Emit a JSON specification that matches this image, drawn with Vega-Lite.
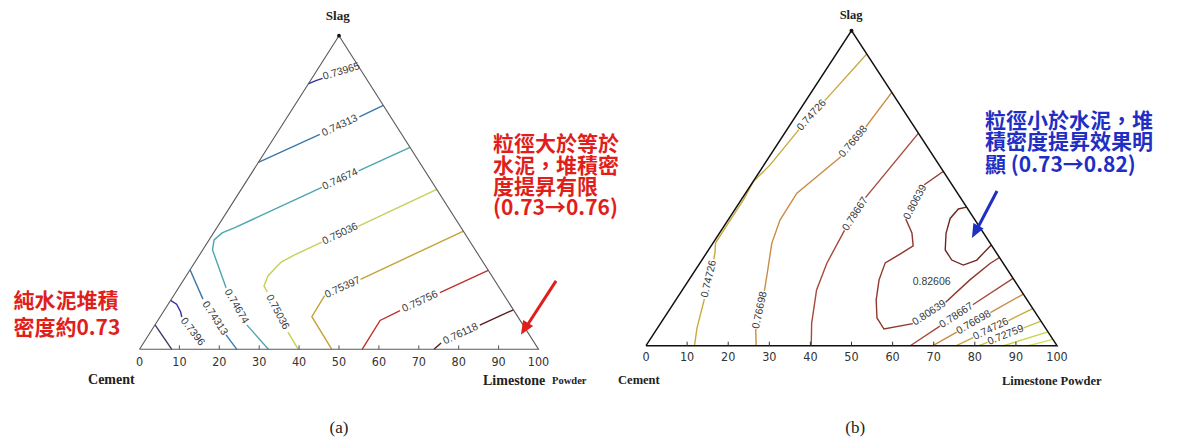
{
  "$schema": "https://vega.github.io/schema/vega-lite/v6.json",
  "width": 1182,
  "height": 441,
  "autosize": {"type": "fit", "contains": "padding"},
  "padding": 0,
  "background": "white",
  "config": {"view": {"stroke": null}},
  "datasets": {
    "tri": [{"x": 0, "y": 0, "i": 0}, {"x": 50, "y": 100, "i": 1}, {"x": 100, "y": 0, "i": 2}, {"x": 0, "y": 0, "i": 3}],
    "apex": [{"x": 50, "y": 100}],
    "ticks": [{"x": 0, "y": 0}, {"x": 10, "y": 0}, {"x": 20, "y": 0}, {"x": 30, "y": 0}, {"x": 40, "y": 0}, {"x": 50, "y": 0}, {"x": 60, "y": 0}, {"x": 70, "y": 0}, {"x": 80, "y": 0}, {"x": 90, "y": 0}, {"x": 100, "y": 0}],
    "a_lines": [
      {"seg": "a0", "lv": "0.73604", "i": 0, "x": 3.9, "y": 7.8}, {"seg": "a0", "lv": "0.73604", "i": 1, "x": 8.1, "y": 0},
      {"seg": "a1L", "lv": "0.73965", "i": 0, "x": 7.8, "y": 15.6}, {"seg": "a1L", "lv": "0.73965", "i": 1, "x": 9.3, "y": 14.4}, {"seg": "a1L", "lv": "0.73965", "i": 2, "x": 10.3, "y": 12.0}, {"seg": "a1L", "lv": "0.73965", "i": 3, "x": 10.6, "y": 10.3},
      {"seg": "a1U", "lv": "0.73965", "i": 0, "x": 42.3, "y": 84.6}, {"seg": "a1U", "lv": "0.73965", "i": 1, "x": 44.2, "y": 85.7}, {"seg": "a1U", "lv": "0.73965", "i": 2, "x": 45.9, "y": 86.4},
      {"seg": "a2U1", "lv": "0.74313", "i": 0, "x": 29.8, "y": 59.6}, {"seg": "a2U1", "lv": "0.74313", "i": 1, "x": 45.2, "y": 68.5},
      {"seg": "a2U2", "lv": "0.74313", "i": 0, "x": 55.1, "y": 74.1}, {"seg": "a2U2", "lv": "0.74313", "i": 1, "x": 61.1, "y": 77.8},
      {"seg": "a2L1", "lv": "0.74313", "i": 0, "x": 12.7, "y": 25.3}, {"seg": "a2L1", "lv": "0.74313", "i": 1, "x": 15.9, "y": 16.0},
      {"seg": "a2L2", "lv": "0.74313", "i": 0, "x": 21.7, "y": 4.6}, {"seg": "a2L2", "lv": "0.74313", "i": 1, "x": 24.4, "y": 0},
      {"seg": "a3a", "lv": "0.74674", "i": 0, "x": 67.8, "y": 64.4}, {"seg": "a3a", "lv": "0.74674", "i": 1, "x": 54.9, "y": 56.9},
      {"seg": "a3b", "lv": "0.74674", "i": 0, "x": 45.7, "y": 51.6}, {"seg": "a3b", "lv": "0.74674", "i": 1, "x": 23.9, "y": 38.8}, {"seg": "a3b", "lv": "0.74674", "i": 2, "x": 20.7, "y": 37.1}, {"seg": "a3b", "lv": "0.74674", "i": 3, "x": 18.7, "y": 34.9}, {"seg": "a3b", "lv": "0.74674", "i": 4, "x": 18.3, "y": 31.7}, {"seg": "a3b", "lv": "0.74674", "i": 5, "x": 21.7, "y": 19.6},
      {"seg": "a3c", "lv": "0.74674", "i": 0, "x": 26.9, "y": 7.8}, {"seg": "a3c", "lv": "0.74674", "i": 1, "x": 32.3, "y": 0},
      {"seg": "a4a", "lv": "0.75036", "i": 0, "x": 74.5, "y": 51.0}, {"seg": "a4a", "lv": "0.75036", "i": 1, "x": 54.8, "y": 39.2},
      {"seg": "a4b", "lv": "0.75036", "i": 0, "x": 45.7, "y": 34.2}, {"seg": "a4b", "lv": "0.75036", "i": 1, "x": 39.0, "y": 30.2}, {"seg": "a4b", "lv": "0.75036", "i": 2, "x": 35.5, "y": 27.8}, {"seg": "a4b", "lv": "0.75036", "i": 3, "x": 32.2, "y": 23.4}, {"seg": "a4b", "lv": "0.75036", "i": 4, "x": 31.2, "y": 20.2}, {"seg": "a4b", "lv": "0.75036", "i": 5, "x": 32.0, "y": 18.3},
      {"seg": "a4c", "lv": "0.75036", "i": 0, "x": 37.2, "y": 5.5}, {"seg": "a4c", "lv": "0.75036", "i": 1, "x": 39.8, "y": 0},
      {"seg": "a5a", "lv": "0.75397", "i": 0, "x": 81.2, "y": 37.7}, {"seg": "a5a", "lv": "0.75397", "i": 1, "x": 55.4, "y": 22.3},
      {"seg": "a5b", "lv": "0.75397", "i": 0, "x": 46.4, "y": 17.1}, {"seg": "a5b", "lv": "0.75397", "i": 1, "x": 43.2, "y": 10.4}, {"seg": "a5b", "lv": "0.75397", "i": 2, "x": 48.2, "y": 0},
      {"seg": "a6a", "lv": "0.75756", "i": 0, "x": 87.4, "y": 25.2}, {"seg": "a6a", "lv": "0.75756", "i": 1, "x": 75.3, "y": 18.1},
      {"seg": "a6b", "lv": "0.75756", "i": 0, "x": 65.3, "y": 12.3}, {"seg": "a6b", "lv": "0.75756", "i": 1, "x": 60.3, "y": 9.2}, {"seg": "a6b", "lv": "0.75756", "i": 2, "x": 55.8, "y": 0},
      {"seg": "a7a", "lv": "0.76118", "i": 0, "x": 93.7, "y": 12.6}, {"seg": "a7a", "lv": "0.76118", "i": 1, "x": 85.3, "y": 7.7},
      {"seg": "a7b", "lv": "0.76118", "i": 0, "x": 75.6, "y": 2.0}, {"seg": "a7b", "lv": "0.76118", "i": 1, "x": 73.8, "y": 0}
    ],
    "a_labels": [
      {"t": "0.73965", "x": 50.6, "y": 88.6, "a": -17},
      {"t": "0.74313", "x": 50.2, "y": 71.3, "a": -25},
      {"t": "0.74674", "x": 50.3, "y": 54.2, "a": -25},
      {"t": "0.75036", "x": 50.3, "y": 36.8, "a": -25},
      {"t": "0.75397", "x": 50.9, "y": 19.7, "a": -25},
      {"t": "0.75756", "x": 70.3, "y": 15.2, "a": -25},
      {"t": "0.76118", "x": 80.5, "y": 4.9, "a": -25},
      {"t": "0.7396", "x": 13.3, "y": 5.6, "a": 52},
      {"t": "0.74313", "x": 18.9, "y": 9.9, "a": 57},
      {"t": "0.74674", "x": 24.3, "y": 13.7, "a": 60},
      {"t": "0.75036", "x": 34.6, "y": 11.9, "a": 62}
    ],
    "a_notes": [
      {"t": "純水泥堆積", "x": -31.6, "y": 15.2},
      {"t": "密度約0.73", "x": -31.6, "y": 6.4},
      {"t": "粒徑大於等於", "x": 88.6, "y": 65.1},
      {"t": "水泥，堆積密", "x": 88.6, "y": 58.2},
      {"t": "度提昇有限", "x": 88.6, "y": 51.3},
      {"t": "(0.73→0.76)", "x": 88.6, "y": 44.6}
    ],
    "a_arrow": [{"x": 104.4, "y": 21.8, "x2": 96.9, "y2": 7.1}],
    "a_head": [{"x": 95.6, "y": 4.6}],
    "a_names": [{"t": "Cement", "x": -12.9, "y": -9.8}, {"t": "Limestone", "x": 86.1, "y": -10.1}],
    "a_small": [{"t": "Powder", "x": 103.4, "y": -10.1}],
    "a_top": [{"t": "Slag", "x": 49.7, "y": 106.3}],
    "a_cap": [{"t": "(a)", "x": 50.0, "y": -25.1}],
    "b_lines": [
      {"seg": "b2a", "lv": "0.74726", "i": 0, "x": 53.7, "y": 92.6}, {"seg": "b2a", "lv": "0.74726", "i": 1, "x": 43.5, "y": 77.8},
      {"seg": "b2b", "lv": "0.74726", "i": 0, "x": 37.2, "y": 68.6}, {"seg": "b2b", "lv": "0.74726", "i": 1, "x": 30.2, "y": 57.4}, {"seg": "b2b", "lv": "0.74726", "i": 2, "x": 26.1, "y": 52.1}, {"seg": "b2b", "lv": "0.74726", "i": 3, "x": 23.7, "y": 46.3}, {"seg": "b2b", "lv": "0.74726", "i": 4, "x": 20.2, "y": 39.3}, {"seg": "b2b", "lv": "0.74726", "i": 5, "x": 16.9, "y": 32.6}, {"seg": "b2b", "lv": "0.74726", "i": 6, "x": 16.8, "y": 29.8}, {"seg": "b2b", "lv": "0.74726", "i": 7, "x": 16.5, "y": 27.5},
      {"seg": "b2c", "lv": "0.74726", "i": 0, "x": 14.2, "y": 14.8}, {"seg": "b2c", "lv": "0.74726", "i": 1, "x": 12.4, "y": 5.6}, {"seg": "b2c", "lv": "0.74726", "i": 2, "x": 11.8, "y": 0},
      {"seg": "b3a", "lv": "0.76698", "i": 0, "x": 59.8, "y": 80.4}, {"seg": "b3a", "lv": "0.76698", "i": 1, "x": 53.5, "y": 69.5},
      {"seg": "b3b", "lv": "0.76698", "i": 0, "x": 47.4, "y": 60.0}, {"seg": "b3b", "lv": "0.76698", "i": 1, "x": 36.7, "y": 48.4}, {"seg": "b3b", "lv": "0.76698", "i": 2, "x": 32.6, "y": 39.9}, {"seg": "b3b", "lv": "0.76698", "i": 3, "x": 30.6, "y": 32.5}, {"seg": "b3b", "lv": "0.76698", "i": 4, "x": 29.5, "y": 23.0}, {"seg": "b3b", "lv": "0.76698", "i": 5, "x": 28.8, "y": 17.4},
      {"seg": "b3c", "lv": "0.76698", "i": 0, "x": 26.7, "y": 5.3}, {"seg": "b3c", "lv": "0.76698", "i": 1, "x": 26.8, "y": 0},
      {"seg": "b4a", "lv": "0.78667", "i": 0, "x": 66.3, "y": 67.5}, {"seg": "b4a", "lv": "0.78667", "i": 1, "x": 53.4, "y": 47.0},
      {"seg": "b4b", "lv": "0.78667", "i": 0, "x": 48.3, "y": 36.6}, {"seg": "b4b", "lv": "0.78667", "i": 1, "x": 44.0, "y": 26.2}, {"seg": "b4b", "lv": "0.78667", "i": 2, "x": 41.5, "y": 17.7}, {"seg": "b4b", "lv": "0.78667", "i": 3, "x": 40.3, "y": 7.1}, {"seg": "b4b", "lv": "0.78667", "i": 4, "x": 40.2, "y": 0},
      {"seg": "b5a", "lv": "0.80639", "i": 0, "x": 72.3, "y": 55.3}, {"seg": "b5a", "lv": "0.80639", "i": 1, "x": 67.7, "y": 51.1},
      {"seg": "b5b", "lv": "0.80639", "i": 0, "x": 63.2, "y": 40.2}, {"seg": "b5b", "lv": "0.80639", "i": 1, "x": 64.7, "y": 35.8}, {"seg": "b5b", "lv": "0.80639", "i": 2, "x": 65.0, "y": 31.7}, {"seg": "b5b", "lv": "0.80639", "i": 3, "x": 61.8, "y": 29.1}, {"seg": "b5b", "lv": "0.80639", "i": 4, "x": 58.2, "y": 26.3}, {"seg": "b5b", "lv": "0.80639", "i": 5, "x": 56.7, "y": 20.9}, {"seg": "b5b", "lv": "0.80639", "i": 6, "x": 56.0, "y": 14.5}, {"seg": "b5b", "lv": "0.80639", "i": 7, "x": 56.2, "y": 8.8}, {"seg": "b5b", "lv": "0.80639", "i": 8, "x": 57.9, "y": 5.3}, {"seg": "b5b", "lv": "0.80639", "i": 9, "x": 64.9, "y": 7.0},
      {"seg": "b5c", "lv": "0.80639", "i": 0, "x": 72.9, "y": 13.8}, {"seg": "b5c", "lv": "0.80639", "i": 1, "x": 78.8, "y": 20.9}, {"seg": "b5c", "lv": "0.80639", "i": 2, "x": 83.7, "y": 26.1}, {"seg": "b5c", "lv": "0.80639", "i": 3, "x": 86.0, "y": 28.0},
      {"seg": "b6", "lv": "0.82606", "i": 0, "x": 78.0, "y": 44.0}, {"seg": "b6", "lv": "0.82606", "i": 1, "x": 76.0, "y": 43.4}, {"seg": "b6", "lv": "0.82606", "i": 2, "x": 74.0, "y": 40.4}, {"seg": "b6", "lv": "0.82606", "i": 3, "x": 73.0, "y": 35.7}, {"seg": "b6", "lv": "0.82606", "i": 4, "x": 72.8, "y": 30.4}, {"seg": "b6", "lv": "0.82606", "i": 5, "x": 74.4, "y": 27.2}, {"seg": "b6", "lv": "0.82606", "i": 6, "x": 77.2, "y": 25.6}, {"seg": "b6", "lv": "0.82606", "i": 7, "x": 80.5, "y": 27.2}, {"seg": "b6", "lv": "0.82606", "i": 8, "x": 84.0, "y": 32.0},
      {"seg": "b4La", "lv": "0.78667", "i": 0, "x": 64.3, "y": 0}, {"seg": "b4La", "lv": "0.78667", "i": 1, "x": 71.5, "y": 6.2},
      {"seg": "b4Lb", "lv": "0.78667", "i": 0, "x": 79.5, "y": 13.0}, {"seg": "b4Lb", "lv": "0.78667", "i": 1, "x": 89.3, "y": 21.4},
      {"seg": "b3La", "lv": "0.76698", "i": 0, "x": 69.8, "y": 0}, {"seg": "b3La", "lv": "0.76698", "i": 1, "x": 75.6, "y": 4.3},
      {"seg": "b3Lb", "lv": "0.76698", "i": 0, "x": 83.8, "y": 10.5}, {"seg": "b3Lb", "lv": "0.76698", "i": 1, "x": 91.8, "y": 16.4},
      {"seg": "b2La", "lv": "0.74726", "i": 0, "x": 75.5, "y": 0}, {"seg": "b2La", "lv": "0.74726", "i": 1, "x": 79.6, "y": 2.6},
      {"seg": "b2Lb", "lv": "0.74726", "i": 0, "x": 88.2, "y": 8.0}, {"seg": "b2Lb", "lv": "0.74726", "i": 1, "x": 94.1, "y": 11.8},
      {"seg": "b1La", "lv": "0.72759", "i": 0, "x": 81.0, "y": 0}, {"seg": "b1La", "lv": "0.72759", "i": 1, "x": 83.1, "y": 1.05},
      {"seg": "b1Lb", "lv": "0.72759", "i": 0, "x": 91.9, "y": 5.65}, {"seg": "b1Lb", "lv": "0.72759", "i": 1, "x": 96.1, "y": 7.8},
      {"seg": "b0L", "lv": "0.70792", "i": 0, "x": 87.0, "y": 0}, {"seg": "b0L", "lv": "0.70792", "i": 1, "x": 97.8, "y": 4.4},
      {"seg": "bmL", "lv": "0.68825", "i": 0, "x": 93.0, "y": 0}, {"seg": "bmL", "lv": "0.68825", "i": 1, "x": 99.0, "y": 2.0}
    ],
    "b_labels": [
      {"t": "0.74726", "x": 40.3, "y": 73.2, "a": -48},
      {"t": "0.74726", "x": 15.3, "y": 21.2, "a": -77},
      {"t": "0.76698", "x": 50.4, "y": 64.8, "a": -50},
      {"t": "0.76698", "x": 27.7, "y": 11.3, "a": -78},
      {"t": "0.78667", "x": 50.9, "y": 41.8, "a": -57},
      {"t": "0.80639", "x": 65.5, "y": 45.6, "a": -62},
      {"t": "0.80639", "x": 68.9, "y": 10.4, "a": -33},
      {"t": "0.82606", "x": 69.5, "y": 20.2, "a": 0},
      {"t": "0.78667", "x": 75.5, "y": 9.6, "a": -33},
      {"t": "0.76698", "x": 79.7, "y": 7.4, "a": -30},
      {"t": "0.74726", "x": 83.9, "y": 5.3, "a": -26},
      {"t": "0.72759", "x": 87.5, "y": 3.35, "a": -22}
    ],
    "b_notes": [
      {"t": "粒徑小於水泥，堆", "x": 82.5, "y": 71.1},
      {"t": "積密度提昇效果明", "x": 82.5, "y": 64.25},
      {"t": "顯 (0.73→0.82)", "x": 82.5, "y": 57.05}
    ],
    "b_arrow": [{"x": 85.4, "y": 49.1, "x2": 80.3, "y2": 36.4}],
    "b_head": [{"x": 79.3, "y": 34.2}],
    "b_names": [{"t": "Cement", "x": -6.8, "y": -10.9}, {"t": "Limestone Powder", "x": 86.6, "y": -11.2}],
    "b_top": [{"t": "Slag", "x": 49.9, "y": 105.0}],
    "b_cap": [{"t": "(b)", "x": 50.9, "y": -26.1}]
  },
  "layer": [
    {
      "encoding": {
        "x": {"field": "x", "type": "quantitative", "scale": {"domain": [-34.96, 261.28], "nice": false, "zero": false}, "axis": null},
        "y": {"field": "y", "type": "quantitative", "scale": {"domain": [-29.24, 111.38], "nice": false, "zero": false}, "axis": null}
      },
      "layer": [
        {"data": {"name": "a_lines"}, "mark": {"type": "line", "strokeWidth": 1.4},
         "encoding": {"detail": {"field": "seg"}, "order": {"field": "i"},
           "color": {"field": "lv", "type": "nominal", "legend": null,
             "scale": {"domain": ["0.73604", "0.73965", "0.74313", "0.74674", "0.75036", "0.75397", "0.75756", "0.76118"],
                       "range": ["#3c3a66", "#3432a0", "#3a78aa", "#4ba6ae", "#c6d058", "#c4a236", "#c0302c", "#5a1a1a"]}}}},
        {"data": {"name": "tri"}, "mark": {"type": "line", "color": "#5a5a5a", "strokeWidth": 1.1}, "encoding": {"order": {"field": "i"}}},
        {"data": {"name": "apex"}, "mark": {"type": "point", "filled": true, "color": "#111", "size": 14, "opacity": 1}},
        {"data": {"name": "ticks"}, "transform": [{"filter": "datum.x > 0 && datum.x < 100"}],
         "mark": {"type": "point", "shape": "M0,0L0,-1", "filled": false, "color": "#555", "strokeWidth": 1, "size": 64, "opacity": 1}},
        {"data": {"name": "ticks"}, "mark": {"type": "text", "font": "Liberation Sans Narrow, DejaVu Sans Condensed, Liberation Sans", "fontSize": 12.5, "color": "#333", "baseline": "middle", "dy": 12.2},
         "encoding": {"text": {"field": "x", "type": "quantitative", "format": "d"}}},
        {"data": {"name": "a_labels"}, "mark": {"type": "text", "font": "Liberation Sans", "fontSize": 10.5, "color": "#3a3a3a", "baseline": "middle"},
         "encoding": {"text": {"field": "t"}, "angle": {"field": "a", "type": "quantitative", "scale": null}}},
        {"data": {"name": "a_notes"}, "mark": {"type": "text", "align": "left", "baseline": "middle", "font": "Noto Sans CJK TC", "fontWeight": "bold", "fontSize": 21, "color": "#e01f1c"},
         "encoding": {"text": {"field": "t"}}},
        {"data": {"name": "a_arrow"}, "mark": {"type": "rule", "color": "#e01f1c", "strokeWidth": 3},
         "encoding": {"x2": {"field": "x2"}, "y2": {"field": "y2"}}},
        {"data": {"name": "a_head"}, "mark": {"type": "point", "shape": "M0,0L-0.75,1.8L0.75,1.8Z", "filled": true, "color": "#e01f1c", "opacity": 1, "size": 240, "angle": 211}},
        {"data": {"name": "a_names"}, "mark": {"type": "text", "align": "left", "baseline": "middle", "font": "Liberation Serif", "fontWeight": "bold", "fontSize": 14, "color": "#222"},
         "encoding": {"text": {"field": "t"}}},
        {"data": {"name": "a_small"}, "mark": {"type": "text", "align": "left", "baseline": "middle", "font": "Liberation Serif", "fontWeight": "bold", "fontSize": 10.5, "color": "#222"},
         "encoding": {"text": {"field": "t"}}},
        {"data": {"name": "a_top"}, "mark": {"type": "text", "align": "center", "baseline": "middle", "font": "Liberation Serif", "fontWeight": "bold", "fontSize": 13, "color": "#222"},
         "encoding": {"text": {"field": "t"}}},
        {"data": {"name": "a_cap"}, "mark": {"type": "text", "align": "center", "baseline": "middle", "font": "Liberation Serif", "fontSize": 17, "color": "#222"},
         "encoding": {"text": {"field": "t"}}}
      ]
    },
    {
      "encoding": {
        "x": {"field": "x", "type": "quantitative", "scale": {"domain": [-157.18, 130.41], "nice": false, "zero": false}, "axis": null},
        "y": {"field": "y", "type": "quantitative", "scale": {"domain": [-30.25, 109.75], "nice": false, "zero": false}, "axis": null}
      },
      "layer": [
        {"data": {"name": "b_lines"}, "mark": {"type": "line", "strokeWidth": 1.4},
         "encoding": {"detail": {"field": "seg"}, "order": {"field": "i"},
           "color": {"field": "lv", "type": "nominal", "legend": null,
             "scale": {"domain": ["0.68825", "0.70792", "0.72759", "0.74726", "0.76698", "0.78667", "0.80639", "0.82606"],
                       "range": ["#cfe35a", "#c9d44c", "#c7c246", "#c9aa3a", "#c98c45", "#a8483a", "#8e382c", "#6e2a22"]}}}},
        {"data": {"name": "tri"}, "mark": {"type": "line", "color": "#111", "strokeWidth": 1.5}, "encoding": {"order": {"field": "i"}}},
        {"data": {"name": "apex"}, "mark": {"type": "point", "filled": true, "color": "#111", "size": 16, "opacity": 1}},
        {"data": {"name": "ticks"}, "transform": [{"filter": "datum.x > 0 && datum.x < 100"}],
         "mark": {"type": "point", "shape": "M0,0L0,-1", "filled": false, "color": "#333", "strokeWidth": 1, "size": 64, "opacity": 1}},
        {"data": {"name": "ticks"}, "mark": {"type": "text", "font": "Liberation Sans Narrow, DejaVu Sans Condensed, Liberation Sans", "fontSize": 12.5, "color": "#333", "baseline": "middle", "dy": 11.6},
         "encoding": {"text": {"field": "x", "type": "quantitative", "format": "d"}}},
        {"data": {"name": "b_labels"}, "mark": {"type": "text", "font": "Liberation Sans", "fontSize": 10.5, "color": "#3a3a3a", "baseline": "middle"},
         "encoding": {"text": {"field": "t"}, "angle": {"field": "a", "type": "quantitative", "scale": null}}},
        {"data": {"name": "b_notes"}, "mark": {"type": "text", "align": "left", "baseline": "middle", "font": "Noto Sans CJK TC", "fontWeight": "bold", "fontSize": 21, "color": "#1f2fc4"},
         "encoding": {"text": {"field": "t"}}},
        {"data": {"name": "b_arrow"}, "mark": {"type": "rule", "color": "#1f2fc4", "strokeWidth": 3},
         "encoding": {"x2": {"field": "x2"}, "y2": {"field": "y2"}}},
        {"data": {"name": "b_head"}, "mark": {"type": "point", "shape": "M0,0L-0.75,1.8L0.75,1.8Z", "filled": true, "color": "#1f2fc4", "opacity": 1, "size": 240, "angle": 208}},
        {"data": {"name": "b_names"}, "mark": {"type": "text", "align": "left", "baseline": "middle", "font": "Liberation Serif", "fontWeight": "bold", "fontSize": 12.5, "color": "#222"},
         "encoding": {"text": {"field": "t"}}},
        {"data": {"name": "b_top"}, "mark": {"type": "text", "align": "center", "baseline": "middle", "font": "Liberation Serif", "fontWeight": "bold", "fontSize": 12.5, "color": "#222"},
         "encoding": {"text": {"field": "t"}}},
        {"data": {"name": "b_cap"}, "mark": {"type": "text", "align": "center", "baseline": "middle", "font": "Liberation Serif", "fontSize": 17, "color": "#222"},
         "encoding": {"text": {"field": "t"}}}
      ]
    }
  ],
  "resolve": {"scale": {"x": "independent", "y": "independent", "color": "independent"}}
}
